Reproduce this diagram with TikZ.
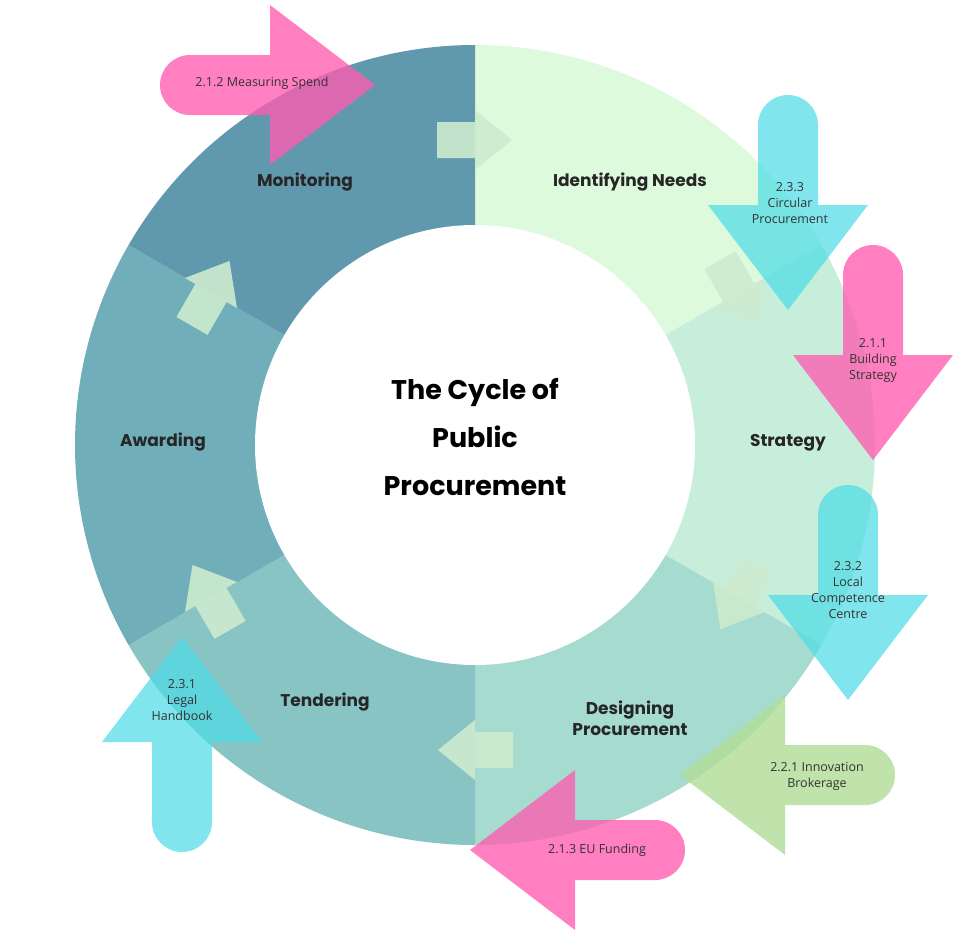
\documentclass[tikz,border=0pt]{standalone}
\usepackage{fontspec}
\setmainfont{Open Sans}
\newfontfamily\headfont{Poppins}
\usetikzlibrary{positioning}
\definecolor{needscol}{HTML}{DDFADD}
\definecolor{strategycol}{HTML}{C6EEDA}
\definecolor{designcol}{HTML}{A6DCCF}
\definecolor{tendercol}{HTML}{88C4C4}
\definecolor{awardcol}{HTML}{70AEB9}
\definecolor{monitorcol}{HTML}{6098AD}
\definecolor{stepcol}{HTML}{CDEBCF}
\definecolor{pinkcol}{HTML}{FF5CB0}
\definecolor{cyancol}{HTML}{4FDCE6}
\definecolor{greencol}{HTML}{B0DC96}

\begin{document}
\begin{tikzpicture}[x=1pt,y=-1pt,
  phase/.style={font=\headfont\bfseries\fontsize{17}{21}\selectfont,text=black!85,align=center},
  tool/.style={font=\fontsize{12.5}{16}\selectfont,text=black!80,align=center},
  bigarrow/.pic={\fill[pic actions] (0,0) -- (-105,80) -- (-105,30) -- (-185,30)
      arc[start angle=90,end angle=270,radius=30] -- (-105,-30) -- (-105,-80) -- cycle;},
  smallarrow/.pic={\fill[stepcol,opacity=.9] (37,0) -- (0,30) -- (0,18) -- (-38,18)
      -- (-38,-18) -- (0,-18) -- (0,-30) -- cycle;},
  pinkarrow/.style={fill=pinkcol,opacity=.78},
  cyanarrow/.style={fill=cyancol,opacity=.72},
  greenarrow/.style={fill=greencol,opacity=.8}]
\useasboundingbox (0,0) rectangle (961,945);
\fill[white] (0,0) rectangle (961,945);

% ring of phases
\begin{scope}[shift={(475,445)},yscale=-1]
  \fill[needscol]    (0,0) -- (30:400)   arc[start angle=30,end angle=90,radius=400] -- cycle;
  \fill[strategycol] (0,0) -- (-30:400)  arc[start angle=-30,end angle=30,radius=400] -- cycle;
  \fill[designcol]   (0,0) -- (-90:400)  arc[start angle=-90,end angle=-30,radius=400] -- cycle;
  \fill[tendercol]   (0,0) -- (-150:400) arc[start angle=-150,end angle=-90,radius=400] -- cycle;
  \fill[awardcol]    (0,0) -- (150:400)  arc[start angle=150,end angle=210,radius=400] -- cycle;
  \fill[monitorcol]  (0,0) -- (90:400)   arc[start angle=90,end angle=150,radius=400] -- cycle;
  \fill[white] (0,0) circle[radius=220];
\end{scope}

% steps between phases
\pic at (475,140) {smallarrow};
\pic[rotate=-60] at (739,293) {smallarrow};
\pic[rotate=-120] at (739,597) {smallarrow};
\pic[rotate=180] at (475,750) {smallarrow};
\pic[rotate=120] at (211,597) {smallarrow};
\pic[rotate=60] at (211,293) {smallarrow};

\node[phase] (monitoring) at (305,182) {Monitoring};
\node[phase] (needs) at (630,182) {Identifying Needs};
\node[phase] (strategy) at (788,443) {Strategy};
\node[phase] (designing) at (630,718) {Designing\\Procurement};
\node[phase] (tendering) at (325,702) {Tendering};
\node[phase] (awarding) at (163,442) {Awarding};
\node[font=\headfont\bfseries\fontsize{27}{48}\selectfont,align=center] (title) at (475,437)
  {The Cycle of\\Public\\Procurement};

% tools laid over the cycle
\pic[pinkarrow] at (375,85) {bigarrow};
\pic[cyanarrow,rotate=-90] at (788,310) {bigarrow};
\pic[pinkarrow,rotate=-90] at (873,460) {bigarrow};
\pic[cyanarrow,rotate=-90] at (848,700) {bigarrow};
\pic[greenarrow,rotate=180] at (680,775) {bigarrow};
\pic[pinkarrow,rotate=180] at (470,850) {bigarrow};
\pic[cyanarrow,rotate=90] at (182,637) {bigarrow};

\node[tool] (spend) at (262,83) {2.1.2 Measuring Spend};
\node[tool] (circular) at (790,203) {2.3.3\\Circular\\Procurement};
\node[tool] (building) at (873,360) {2.1.1\\Building\\Strategy};
\node[tool] (local) at (848,590) {2.3.2\\Local\\Competence\\Centre};
\node[tool] (innovation) at (817,776) {2.2.1 Innovation\\Brokerage};
\node[tool] (funding) at (597,850) {2.1.3 EU Funding};
\node[tool] (legal) at (182,700) {2.3.1\\Legal\\Handbook};
\end{tikzpicture}
\end{document}
